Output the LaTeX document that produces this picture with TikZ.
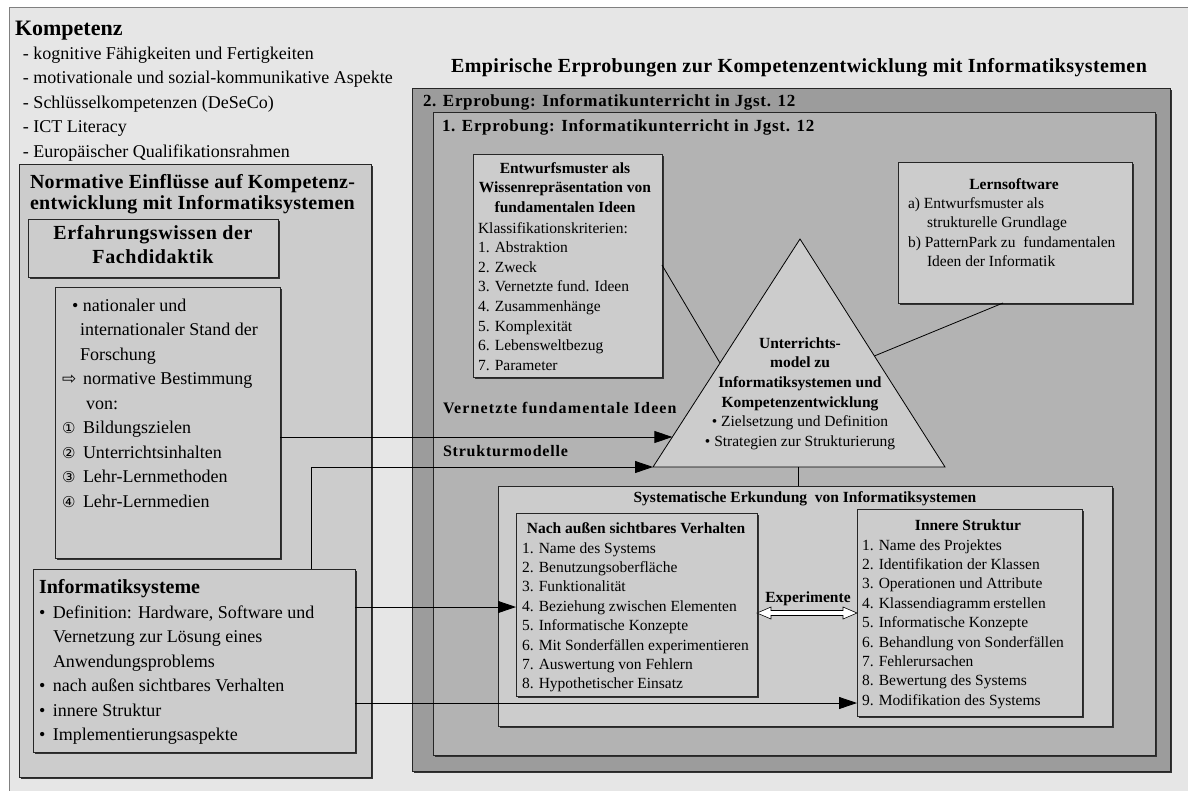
\documentclass[tikz,border=0pt]{standalone}
\usepackage{fontspec}
\setmainfont{Liberation Serif}
\newfontfamily\symfont{DejaVu Sans}
\usetikzlibrary{arrows.meta,shadows,calc}
\definecolor{pagebg}{HTML}{E6E6E6}
\definecolor{panel}{HTML}{CCCCCC}
\definecolor{outerrun}{HTML}{9C9C9C}
\definecolor{innerrun}{HTML}{B3B3B3}
% line stacks whose reference point is the baseline of the first line
\newcommand\lstack[1]{\begin{tabular}[t]{@{}l@{}}#1\end{tabular}}
\newcommand\cstack[1]{\begin{tabular}[t]{@{}c@{}}#1\end{tabular}}
\begin{document}
\begin{tikzpicture}[x=1pt,y=-1pt,
  every node/.style={inner sep=0pt,outer sep=0pt},
  shad/.style={drop shadow={shadow xshift=1.6pt,shadow yshift=-1.6pt,fill=black!80,opacity=1}},
  box/.style={draw=black!85,line width=0.8pt,fill=panel,anchor=north west,shad},
  txt/.style={anchor=base west,font=\fontsize{15.5}{19.5}\selectfont},
  bigtxt/.style={anchor=base west,font=\fontsize{18}{24.5}\selectfont},
  btitle/.style={anchor=base,font=\fontsize{15.5}{19.7}\selectfont\bfseries},
  arr/.style={line width=0.8pt,-{Triangle[length=18pt,width=12pt]}},
  link/.style={line width=0.8pt},
]
\useasboundingbox (0,0) rectangle (1188,790);
\fill[white] (0,0) rectangle (1188,790);
\draw[fill=pagebg,draw=black!50,line width=0.8pt] (9,7) rectangle (1200,800);

% left column: normative influences
\node[box,minimum width=352,minimum height=613] (norm) at (19,164) {};
\node[box,minimum width=250,minimum height=58] (erf) at (28,219) {};
\node[box,minimum width=225,minimum height=271] (lst) at (55,287) {};
\node[box,minimum width=322,minimum height=183] (isys) at (33,569) {};

% right column: the two trial runs
\node[box,fill=outerrun,minimum width=758,minimum height=683] (run2) at (412,88) {};
\node[box,fill=innerrun,minimum width=722,minimum height=643] (run1) at (433,112) {};
\node[box,minimum width=189,minimum height=223] (entw) at (473,154) {};
\node[box,minimum width=234,minimum height=141] (lern) at (898,162) {};

% teaching model triangle
\coordinate (tA) at (800,239);
\coordinate (tL) at (653,467);
\coordinate (tR) at (945,467);
\draw[link,fill=panel] (tA) -- (tR) -- (tL) -- cycle;

\node[box,minimum width=614,minimum height=240] (sys) at (498,486) {};
\node[box,line width=0.7pt,minimum width=241,minimum height=183] (nach) at (516,513) {};
\node[box,line width=0.7pt,minimum width=225,minimum height=207] (inn) at (857,509) {};

% helper coordinates for connector heights
\coordinate (h265) at (0,265);
\coordinate (v1003) at (1003,0);
\coordinate (v311) at (311,0);
\coordinate (h607) at (0,607);
\coordinate (h613) at (0,613);
\coordinate (h703) at (0,703);
\coordinate (tP1) at ($(tL)!0.1316!(tA)$);
\coordinate (tP2) at ($(tL)!0.456!(tA)$);
\coordinate (tP3) at ($(tR)!0.487!(tA)$);
\coordinate (tB) at ($(tL)!0.497!(tR)$);

% connectors
\draw[link] (entw.east |- h265) -- (tP2);
\draw[link] (lern.south -| v1003) -- (tP3);
\draw[link] (tB) -- (sys.north -| tB);
\draw[arr] (lst.east |- tP1) -- (tP1);
\draw[arr] (isys.north -| v311) |- (tL);
\draw[arr] (isys.east |- h607) -- (nach.west |- h607);
\draw[arr] (isys.east |- h703) -- (inn.west |- h703);
\coordinate (xL) at (nach.east |- h613);
\coordinate (xR) at (inn.west |- h613);
\draw[line width=0.6pt,fill=white] (xL) -- ++(14,-6) -- ++(0,3.5) -- ($(xR)+(-14,-2.5)$)
  -- ++(0,-3.5) -- (xR) -- ++(-14,6) -- ++(0,-3.5) -- ($(xL)+(14,2.5)$) -- ++(0,3.5) -- cycle;

% texts: competence
\node[anchor=base west,font=\fontsize{22}{26}\selectfont\bfseries] (kt) at (15,35) {Kompetenz};
\node[bigtxt] (kl) at (23,59) {\lstack{- kognitive Fähigkeiten und Fertigkeiten\\- motivationale und sozial-kommunikative Aspekte\\- Schlüsselkompetenzen (DeSeCo)\\- ICT Literacy\\- Europäischer Qualifikationsrahmen}};

\node[anchor=base west,font=\fontsize{20}{21.5}\selectfont\bfseries\addfontfeatures{LetterSpace=1.5}] (nt) at (30,188) {\lstack{Normative Einflüsse auf Kompetenz-\\entwicklung mit Informatiksystemen}};
\node[anchor=base,font=\fontsize{20}{24}\selectfont\bfseries\addfontfeatures{LetterSpace=3}] (et) at (153,239) {\cstack{Erfahrungswissen der\\Fachdidaktik}};
\node[bigtxt] (lt) at (62,311) {\lstack{\hspace*{10pt}\makebox[11pt][l]{•}nationaler und\\
\hspace*{18pt}internationaler Stand der\\
\hspace*{18pt}Forschung\\
\makebox[21pt][l]{\symfont\fontsize{17}{17}\selectfont ⇨}normative Bestimmung\\
\hspace*{24pt}von:\\
\makebox[21pt][l]{\symfont\fontsize{15}{15}\selectfont ①}Bildungszielen\\
\makebox[21pt][l]{\symfont\fontsize{15}{15}\selectfont ②}Unterrichtsinhalten\\
\makebox[21pt][l]{\symfont\fontsize{15}{15}\selectfont ③}Lehr-Lernmethoden\\
\makebox[21pt][l]{\symfont\fontsize{15}{15}\selectfont ④}Lehr-Lernmedien}};
\node[anchor=base west,font=\fontsize{20}{24}\selectfont\bfseries] (it) at (39,593) {Informatiksysteme};
\node[bigtxt] (il) at (39,618) {\lstack{\makebox[14pt][l]{•}Definition: Hardware, Software und\\
\hspace*{14pt}Vernetzung zur Lösung eines\\
\hspace*{14pt}Anwendungsproblems\\
\makebox[14pt][l]{•}nach außen sichtbares Verhalten\\
\makebox[14pt][l]{•}innere Struktur\\
\makebox[14pt][l]{•}Implementierungsaspekte}};

% texts: trial runs
\node[anchor=base,font=\fontsize{20}{24}\selectfont\bfseries\addfontfeatures{LetterSpace=2}] (emp) at (799,72) {Empirische Erprobungen zur Kompetenzentwicklung mit Informatiksystemen};
\node[anchor=base west,font=\fontsize{17}{20}\selectfont\bfseries\addfontfeatures{LetterSpace=4}] (r2t) at (423,106) {2. Erprobung: Informatikunterricht in Jgst. 12};
\node[anchor=base west,font=\fontsize{17}{20}\selectfont\bfseries\addfontfeatures{LetterSpace=4}] (r1t) at (442,131) {1. Erprobung: Informatikunterricht in Jgst. 12};

\node[btitle] (entt) at (565,173) {\cstack{Entwurfsmuster als\\Wissenrepräsentation von\\fundamentalen Ideen}};
\node[txt,font=\fontsize{15.5}{19.6}\selectfont] (entl) at (478,233) {\lstack{Klassifikationskriterien:\\1. Abstraktion\\2. Zweck\\3. Vernetzte fund. Ideen\\4. Zusammenhänge\\5. Komplexität\\6. Lebensweltbezug\\7. Parameter}};

\node[btitle] (lernt) at (1014,189) {Lernsoftware};
\node[txt] (lernl) at (908,208) {\lstack{a) Entwurfsmuster als\\\hspace*{19pt}strukturelle Grundlage\\b) PatternPark zu\ \ fundamentalen\\\hspace*{19pt}Ideen der Informatik}};

\node[anchor=base west,font=\fontsize{16}{19}\selectfont\bfseries\addfontfeatures{LetterSpace=7}] (vfi) at (443,413) {Vernetzte fundamentale Ideen};
\node[anchor=base west,font=\fontsize{16}{19}\selectfont\bfseries\addfontfeatures{LetterSpace=5}] (stm) at (443,456) {Strukturmodelle};

\node[anchor=base,font=\fontsize{15.5}{19.7}\selectfont] (tt) at (800,348) {\cstack{\textbf{Unterrichts-}\\\textbf{model zu}\\\textbf{Informatiksystemen und}\\\textbf{Kompetenzentwicklung}\\• Zielsetzung und Definition\\• Strategien zur Strukturierung}};

\node[btitle] (syst) at (805,502) {Systematische Erkundung\ \ von Informatiksystemen};
\node[btitle] (nacht) at (636,533) {Nach außen sichtbares Verhalten};
\node[txt,font=\fontsize{15.5}{19.4}\selectfont] (nachl) at (522,553) {\lstack{1. Name des Systems\\2. Benutzungsoberfläche\\3. Funktionalität\\4. Beziehung zwischen Elementen\\5. Informatische Konzepte\\6. Mit Sonderfällen experimentieren\\7. Auswertung von Fehlern\\8. Hypothetischer Einsatz}};
\node[btitle] (innt) at (968,530) {Innere Struktur};
\node[txt,font=\fontsize{15.5}{19.4}\selectfont] (innl) at (862,550) {\lstack{1. Name des Projektes\\2. Identifikation der Klassen\\3. Operationen und Attribute\\4. Klassendiagramm\,erstellen\\5. Informatische Konzepte\\6. Behandlung von Sonderfällen\\7. Fehlerursachen\\8. Bewertung des Systems\\9. Modifikation des Systems}};
\node[btitle] (expt) at (808,602) {Experimente};
\end{tikzpicture}
\end{document}
